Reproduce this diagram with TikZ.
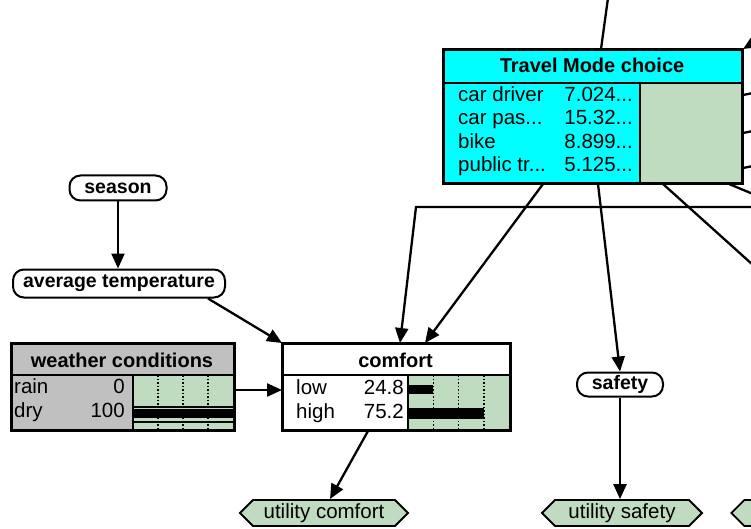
\documentclass[tikz,border=0pt]{standalone}
\usepackage{fontspec}
\setmainfont{Liberation Sans}
\usetikzlibrary{arrows.meta,shapes.symbols}
\definecolor{cy}{HTML}{00FFFF}
\definecolor{gr}{HTML}{C0DCC0}
\definecolor{gy}{HTML}{C0C0C0}
\tikzset{
 box/.style={draw, line width=2pt, inner sep=0, anchor=north west},
 oval/.style={draw, line width=2pt, rounded corners=11pt, inner sep=0, fill=white, font=\bfseries\fontsize{19.5}{19.5}\selectfont},
 util/.style={draw, line width=1.8pt, signal, signal to=east and west, fill=gr, inner sep=0, minimum height=26pt, font=\fontsize{20.5}{20.5}\selectfont},
 conn/.style={line width=2.3pt},
 arr/.style={conn, -{Triangle[length=15pt,width=13pt]}},
 txt/.style={inner sep=0, font=\fontsize{20.5}{20.5}\selectfont},
 ttl/.style={inner sep=0, font=\bfseries\fontsize{20}{20}\selectfont},
 dots/.style={dotted, line width=1.5pt},
}
\begin{document}
\begin{tikzpicture}[x=1pt,y=-1pt]
\useasboundingbox (0,0) rectangle (751,529);
\clip (0,0) rectangle (751,529);
\fill[white] (0,0) rectangle (751,529);

% ---- boxes ----
\node[box, fill=cy, minimum width=298pt, minimum height=133pt] (tmc) at (443,49) {};
\fill[gr] (640,83) rectangle (741,182);
\draw[line width=2pt] (443,83) -- (741,83);
\draw[line width=1.5pt] (640,83) -- (640,182);
\draw[line width=2pt] (tmc.north west) rectangle (tmc.south east);
\node[ttl, anchor=base] (tmct) at (592,73) {Travel Mode choice};
\node[txt, anchor=base west] (tl1) at (458,102) {car driver};
\node[txt, anchor=base west] (tl2) at (458,125) {car pas...};
\node[txt, anchor=base west] (tl3) at (458,148.5) {bike};
\node[txt, anchor=base west] (tl4) at (458,172) {public tr...};
\node[txt, anchor=base east] (tv1) at (633,102) {7.024...};
\node[txt, anchor=base east] (tv2) at (633,125) {15.32...};
\node[txt, anchor=base east] (tv3) at (633,148.5) {8.899...};
\node[txt, anchor=base east] (tv4) at (633,172) {5.125...};

\node[box, fill=white, minimum width=227pt, minimum height=86pt] (comfort) at (282,343) {};
\fill[gr] (408,375) rectangle (509,429);
\draw[dots] (433.25,375) -- (433.25,429) (458.5,375) -- (458.5,429) (483.75,375) -- (483.75,429);
\fill[black] (408,385) rectangle (433,394);
\fill[black] (408,408) rectangle (484,419);
\draw[line width=2pt] (282,375) -- (509,375);
\draw[line width=1.5pt] (408,375) -- (408,429);
\draw[line width=2pt] (comfort.north west) rectangle (comfort.south east);
\node[ttl, anchor=base] (ct) at (395.5,367) {comfort};
\node[txt, anchor=base west] (cl1) at (296,394) {low};
\node[txt, anchor=base west] (cl2) at (296,418) {high};
\node[txt, anchor=base east] (cv1) at (404,394) {24.8};
\node[txt, anchor=base east] (cv2) at (404,418) {75.2};

\node[box, fill=gy, minimum width=222pt, minimum height=86pt] (weather) at (11,343) {};
\fill[gr] (133,375) rectangle (233,429);
\draw[dots] (158,375) -- (158,429) (183,375) -- (183,429) (208,375) -- (208,429);
\fill[black] (133,406) rectangle (233,418);
\draw[gr, line width=1.2pt] (133,408.5) -- (233,408.5);
\fill[black] (133,421) rectangle (233,423);
\draw[line width=2pt] (11,375) -- (233,375);
\draw[line width=1.5pt] (133,375) -- (133,429);
\draw[line width=2pt] (weather.north west) rectangle (weather.south east);
\node[ttl, anchor=base] (wt) at (122,367) {weather conditions};
\node[txt, anchor=base west] (wl1) at (14,393) {rain};
\node[txt, anchor=base west] (wl2) at (14,417) {dry};
\node[txt, anchor=base east] (wv1) at (125,393) {0};
\node[txt, anchor=base east] (wv2) at (125,417) {100};

% ---- ovals ----
\node[oval, minimum width=97pt, minimum height=25pt] (season) at (118,188) {season};
\node[oval, minimum width=212pt, minimum height=28pt] (avg) at (119,283.5) {average temperature};
\node[oval, minimum width=86pt, minimum height=24pt] (safety) at (620,384.5) {safety};

% ---- utilities ----
\node[util, minimum width=168pt] (ucomfort) at (324,513) {utility comfort};
\node[util, minimum width=160pt] (usafety) at (622,513) {utility safety};
\node[util, minimum width=160pt, anchor=west] (uthird) at (730,513) {};

% ---- free ends ----
\coordinate (r1) at (753,207);
\coordinate (bend) at (416,207);
\coordinate (r2) at (753,265);
\coordinate (r3) at (753,194);
\coordinate (r4) at (608,-2);
\coordinate (r5) at (753,43);
\coordinate (r6) at (753,93);
\coordinate (r7) at (753,131);
\coordinate (r8) at (753,166);

% ---- connectors ----
\draw[arr] (season.south) -- (season.south |- avg.north);
\draw[arr] ([xshift=-18pt]avg.south east) -- (comfort.north west);
\draw[arr] ([yshift=-3pt]weather.east) -- ([yshift=-3pt]comfort.west);
\draw[arr] ([xshift=100pt]tmc.south west) -- ([xshift=143pt]comfort.north west);
\draw[arr] (r1) -- (bend) -- ([xshift=118pt]comfort.north west);
\draw[arr] ([xshift=155pt]tmc.south west) -- (safety.north);
\draw[conn] ([xshift=220pt]tmc.south west) -- (r2);
\draw[conn] ([xshift=-14pt]tmc.south east) -- (r3);
\draw[conn] (r4) -- ([xshift=158pt]tmc.north west);
\draw[arr] (r5) -- (tmc.north east);
\draw[conn] ([yshift=-46pt]tmc.north east) -- (r6);
\draw[conn] ([yshift=-84pt]tmc.north east) -- (r7);
\draw[conn] ([yshift=-119pt]tmc.north east) -- (r8);
\draw[arr] ([xshift=86pt]comfort.south west) -- ([xshift=6pt]ucomfort.north);
\draw[arr] (safety.south) -- (safety.south |- usafety.north);
\end{tikzpicture}
\end{document}
